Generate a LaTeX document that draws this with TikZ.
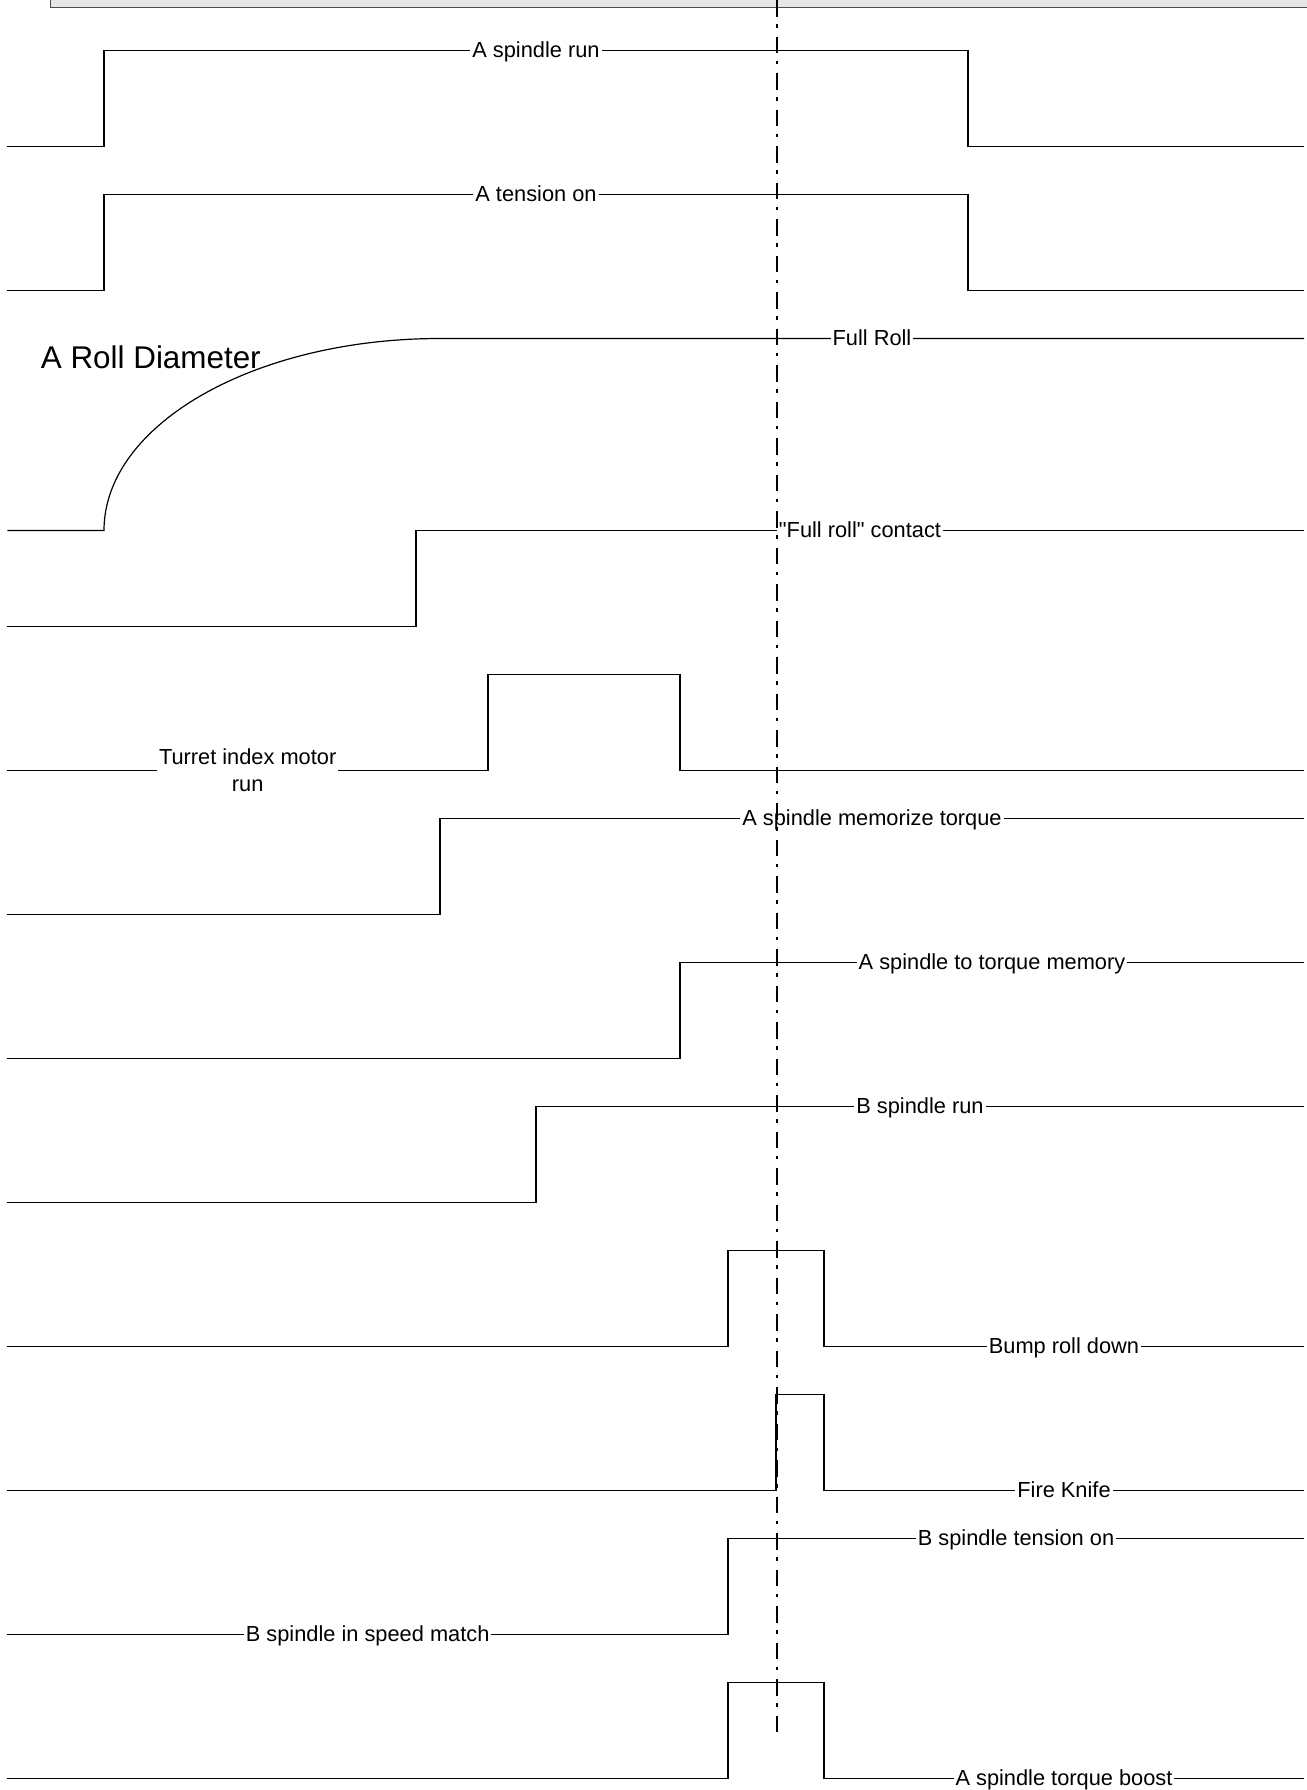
\documentclass[tikz,border=0pt]{standalone}
\usepackage{fontspec}
\setmainfont{Liberation Sans}
% family without TeX ligature mapping, so " stays a straight quote
\newfontfamily\labelfont{Liberation Sans}
\begin{document}
\begin{tikzpicture}[x=0.5pt,y=-0.5pt,
  sig/.style={line width=0.6pt, black, line join=miter},
  lbl/.style={midway, fill=white, inner xsep=1pt, inner ysep=0.5pt,
              anchor=base, yshift=-3.6pt, font=\labelfont\fontsize{10.9}{13.7}\selectfont},
  lbltwo/.style={midway, fill=white, inner xsep=1pt, inner ysep=0.5pt,
                 anchor=center, align=center, font=\labelfont\fontsize{10.9}{13.4}\selectfont},
  biglbl/.style={anchor=base west, inner sep=0pt, font=\labelfont\fontsize{15.7}{18}\selectfont},
  cursor/.style={line width=1pt, black, dash pattern=on 8.25pt off 3.75pt on 1.75pt off 4.5pt},
  bandfill/.style={fill=black!10},
  bandedge/.style={draw=black!70, line width=0.75pt}]
\useasboundingbox (0,0) rectangle (1307,1790);

% header band at the top
\fill[bandfill] (50.7,0) rectangle (1307,7.3);
\draw[bandedge] (50.7,0) -- (50.7,7.3) -- (1307,7.3);

% A spindle run
\draw[sig] (7.3,146.5) -- (104,146.5) -- (104,50.5)
  -- node[lbl] (l1) {A spindle run} (968,50.5) -- (968,146.5) -- (1304,146.5);

% A tension on
\draw[sig] (7.3,290.5) -- (104,290.5) -- (104,194.5)
  -- node[lbl] (l2) {A tension on} (968,194.5) -- (968,290.5) -- (1304,290.5);

% A roll diameter (growing roll, quarter ellipse)
\draw[sig] (7.3,530.5) -- (104,530.5)
  .. controls (104,424.5) and (254.4,338.5) .. (440,338.5)
  -- node[lbl] (l3) {Full Roll} (1304,338.5);
\node[biglbl] (rolldia) at (40.5,368) {A Roll Diameter};

% "Full roll" contact
\draw[sig] (7.3,626.5) -- (416,626.5) -- (416,530.5)
  -- node[lbl] (l4) {"Full roll" contact} (1304,530.5);

% Turret index motor run
\draw[sig] (7.3,770.5) -- node[lbltwo] (l5) {Turret index motor\\run} (488,770.5)
  -- (488,674.5) -- (680,674.5) -- (680,770.5) -- (1304,770.5);

% A spindle memorize torque
\draw[sig] (7.3,914.5) -- (440,914.5) -- (440,818.5)
  -- node[lbl] (l6) {A spindle memorize torque} (1304,818.5);

% A spindle to torque memory
\draw[sig] (7.3,1058.5) -- (680,1058.5) -- (680,962.5)
  -- node[lbl] (l7) {A spindle to torque memory} (1304,962.5);

% B spindle run
\draw[sig] (7.3,1202.5) -- (536,1202.5) -- (536,1106.5)
  -- node[lbl] (l8) {B spindle run} (1304,1106.5);

% Bump roll down
\draw[sig] (7.3,1346.5) -- (728,1346.5) -- (728,1250.5) -- (824,1250.5) -- (824,1346.5)
  -- node[lbl] (l9) {Bump roll down} (1304,1346.5);

% Fire knife
\draw[sig] (7.3,1490.5) -- (776,1490.5) -- (776,1394.5) -- (824,1394.5) -- (824,1490.5)
  -- node[lbl] (l10) {Fire Knife} (1304,1490.5);

% B spindle speed match / tension on
\draw[sig] (7.3,1634.5) -- node[lbl] (l11) {B spindle in speed match} (728,1634.5)
  -- (728,1538.5) -- node[lbl] (l12) {B spindle tension on} (1304,1538.5);

% A spindle torque boost
\draw[sig] (7.3,1778.5) -- (728,1778.5) -- (728,1682.5) -- (824,1682.5) -- (824,1778.5)
  -- node[lbl] (l13) {A spindle torque boost} (1304,1778.5);

% cut instant marker
\coordinate (cuttop) at (776.5,0);
\coordinate (cutbot) at (776.5,1732);
\draw[cursor] (cuttop) -- (cutbot);
\end{tikzpicture}
\end{document}
